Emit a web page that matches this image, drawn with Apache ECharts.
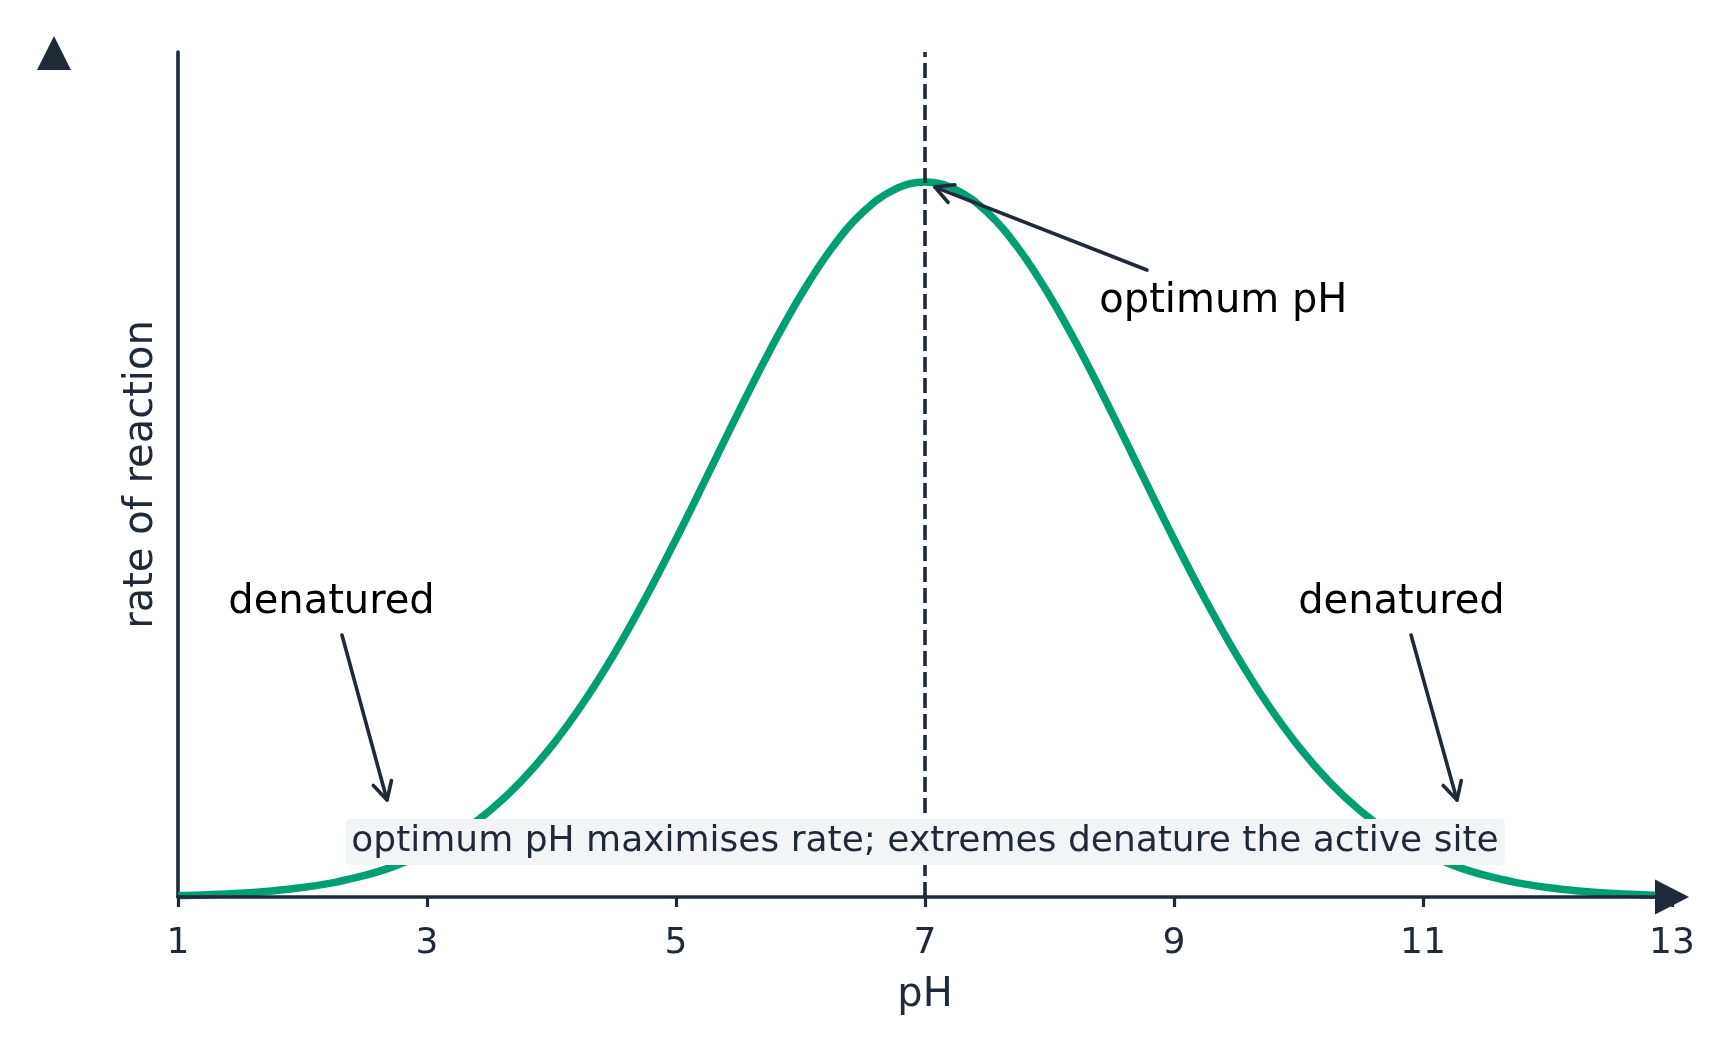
<!DOCTYPE html>
<html>
<head>
<meta charset="utf-8">
<script src="https://cdn.jsdelivr.net/npm/echarts@6/dist/echarts.min.js"></script>
<style>
html,body{margin:0;padding:0;background:#fff;}
#chart{width:1736px;height:1056px;}
</style>
</head>
<body>
<div id="chart"></div>
<script>
// ---- data ----
const phValues = [1, 1.25, 1.5, 1.75, 2, 2.25, 2.5, 2.75, 3, 3.25, 3.5, 3.75, 4, 4.25, 4.5, 4.75,
  5, 5.25, 5.5, 5.75, 6, 6.25, 6.5, 6.75, 7, 7.25, 7.5, 7.75, 8, 8.25, 8.5, 8.75,
  9, 9.25, 9.5, 9.75, 10, 10.25, 10.5, 10.75, 11, 11.25, 11.5, 11.75, 12, 12.25, 12.5, 12.75, 13];
const rateValues = [0.0020, 0.0033, 0.0053, 0.0085, 0.0132, 0.0202, 0.0301, 0.0439, 0.0628, 0.0878,
  0.1201, 0.1608, 0.2108, 0.2703, 0.3391, 0.4165, 0.5005, 0.5887, 0.6776, 0.7632, 0.8411, 0.9073,
  0.9577, 0.9892, 1.0000, 0.9892, 0.9577, 0.9073, 0.8411, 0.7632, 0.6776, 0.5887, 0.5005, 0.4165,
  0.3391, 0.2703, 0.2108, 0.1608, 0.1201, 0.0878, 0.0628, 0.0439, 0.0301, 0.0202, 0.0132, 0.0085,
  0.0053, 0.0033, 0.0020];
const xTicks = [1, 3, 5, 7, 9, 11, 13];
const optimumPH = 7;
const xAxisName = 'pH';
const yAxisName = 'rate of reaction';
const annotationTexts = ['optimum pH', 'denatured', 'denatured'];
const noteText = 'optimum pH maximises rate; extremes denature the active site';

// ---- styles ----
const INK = '#1f2937';
const GREEN = '#009E73';
const FONT = '"DejaVu Sans", "Noto Sans", sans-serif';

const chart = echarts.init(document.getElementById('chart'), null, {renderer: 'canvas'});

const seriesData = phValues.map((x, i) => [x, rateValues[i]]);

chart.setOption({
  animation: false,
  backgroundColor: '#ffffff',
  grid: {left: 178, right: 64, top: 52, bottom: 159, containLabel: false, outerBoundsMode: 'none'},
  xAxis: {
    type: 'value',
    min: xTicks[0],
    max: xTicks[xTicks.length - 1],
    interval: xTicks[1] - xTicks[0],
    z: 3,
    name: xAxisName,
    nameLocation: 'middle',
    nameGap: 79,
    nameTextStyle: {fontSize: 40, color: INK, fontFamily: FONT},
    axisLine: {show: true, symbol: ['none', 'triangle'], symbolSize: [35, 34],
      lineStyle: {color: INK, width: 3.6}},
    axisTick: {show: true, length: 10, lineStyle: {color: INK, width: 3.2}},
    axisLabel: {show: true, margin: 29, fontSize: 36, color: INK, fontFamily: FONT,
      showMinLabel: true, showMaxLabel: true},
    splitLine: {show: false}
  },
  yAxis: {
    type: 'value',
    min: 0,
    max: 1.182,
    name: yAxisName,
    nameLocation: 'middle',
    nameGap: 16,
    nameTextStyle: {fontSize: 40, color: INK, fontFamily: FONT},
    axisLine: {show: true, lineStyle: {color: INK, width: 3.6}},
    axisTick: {show: false},
    axisLabel: {show: false},
    splitLine: {show: false}
  },
  series: [{
    type: 'line',
    data: seriesData,
    smooth: 0.4,
    showSymbol: false,
    symbol: 'none',
    z: 2,
    lineStyle: {color: GREEN, width: 7.5},
    markLine: {
      silent: true,
      symbol: ['none', 'none'],
      label: {show: false},
      lineStyle: {color: INK, width: 3.6, type: [15, 6]},
      data: [{xAxis: optimumPH}]
    }
  }]
});

function px(x, y) {
  return chart.convertToPixel({xAxisIndex: 0, yAxisIndex: 0}, [x, y]);
}

function arrow(tail, tip) {
  const a = px(tail[0], tail[1]);
  const b = px(tip[0], tip[1]);
  const dx = a[0] - b[0], dy = a[1] - b[1];
  const len = Math.sqrt(dx * dx + dy * dy);
  const ux = dx / len, uy = dy / len;
  const hl = 20, ang = 28 * Math.PI / 180;
  const c = Math.cos(ang), s = Math.sin(ang);
  const arm1 = [b[0] + hl * (ux * c - uy * s), b[1] + hl * (ux * s + uy * c)];
  const arm2 = [b[0] + hl * (ux * c + uy * s), b[1] + hl * (-ux * s + uy * c)];
  const st = {stroke: INK, lineWidth: 3.6, fill: null, lineCap: 'round', lineJoin: 'round'};
  return [
    {type: 'polyline', z: 20, shape: {points: [a, b]}, style: st},
    {type: 'polyline', z: 20, shape: {points: [arm1, b, arm2]}, style: st}
  ];
}

function label(text, pos, align, font, color) {
  const p = px(pos[0], pos[1]);
  return {type: 'text', z: 20, x: p[0], y: p[1],
    style: {text: text, font: font, fill: color, align: align, verticalAlign: 'middle'}};
}

const notePos = px(optimumPH, 0.0770);

const graphics = [
  // stray up-arrow marker at the top left
  {type: 'polygon', z: 20, shape: {points: [[54, 36], [71, 70], [37, 70]]}, style: {fill: INK}},
  ...arrow([8.783, 0.877], [7.08, 0.993]),
  ...arrow([2.317, 0.3665], [2.679, 0.1357]),
  ...arrow([10.904, 0.3665], [11.273, 0.1357]),
  label(annotationTexts[0], [8.40, 0.833], 'left', '40px ' + FONT, '#000000'),
  label(annotationTexts[1], [2.233, 0.412], 'center', '40px ' + FONT, '#000000'),
  label(annotationTexts[2], [10.827, 0.412], 'center', '40px ' + FONT, '#000000'),
  {type: 'text', z: 25, x: notePos[0], y: notePos[1],
    style: {text: noteText, font: '36px ' + FONT, fill: INK, align: 'center', verticalAlign: 'middle',
      backgroundColor: '#f3f4f6', padding: [5, 6, 5, 6], borderRadius: 5}}
];

chart.setOption({graphic: graphics});
</script>
</body>
</html>
